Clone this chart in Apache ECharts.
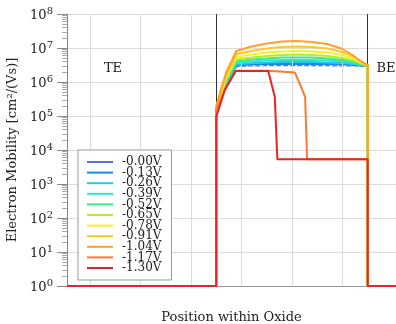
<!DOCTYPE html>
<html>
<head>
<meta charset="utf-8">
<script src="https://cdn.jsdelivr.net/npm/echarts@6/dist/echarts.min.js"></script>
<style>
	html, body { margin: 0; padding: 0; background: #fff; }
	#chart { width: 396px; height: 324px; }
</style>
</head>
<body>
<div id="chart"></div>
<script>
// x in grid units (0 = first vertical grid line), oxide between 2.5 and 5.5
const xMin = -0.455
const xMax = 6.06
const gridX = [0, 1, 2, 3, 4, 5]
const oxide = [2.5, 5.5]

const names = ['-0.00V', '-0.13V', '-0.26V', '-0.39V', '-0.52V', '-0.65V', '-0.78V', '-0.91V', '-1.04V', '-1.17V', '-1.30V']
const colors = ['#5a6cf0', '#1e88e5', '#26c6e6', '#2ee6d0', '#3ce68c', '#b4ec28', '#f2f22a', '#ffc81e', '#ff9f32', '#ff7832', '#e82424']

// sample positions of the smooth curves
const xPos = [2.5, 2.6, 2.7, 2.9, 3.2, 3.5, 3.8, 4.1, 4.4, 4.7, 5.0, 5.2, 5.35, 5.5]
const m000 = [1.40e5, 3.38e5, 8.17e5, 2.86e6, 2.96e6, 3.02e6, 3.02e6, 3.02e6, 3.02e6, 3.02e6, 2.96e6, 2.96e6, 2.96e6, 2.86e6]
const m013 = [1.50e5, 3.62e5, 8.73e5, 3.06e6, 3.27e6, 3.38e6, 3.38e6, 3.38e6, 3.38e6, 3.38e6, 3.27e6, 3.16e6, 3.06e6, 2.96e6]
const m026 = [1.50e5, 3.87e5, 9.35e5, 3.27e6, 3.62e6, 3.75e6, 3.87e6, 3.87e6, 3.87e6, 3.75e6, 3.62e6, 3.38e6, 3.16e6, 2.96e6]
const m039 = [1.61e5, 4.15e5, 1.00e6, 3.62e6, 4.01e6, 4.29e6, 4.44e6, 4.44e6, 4.44e6, 4.29e6, 4.01e6, 3.62e6, 3.27e6, 2.96e6]
const m052 = [1.61e5, 4.44e5, 1.07e6, 4.01e6, 4.59e6, 4.91e6, 5.26e6, 5.26e6, 5.26e6, 4.91e6, 4.44e6, 3.87e6, 3.38e6, 2.96e6]
const m065 = [1.72e5, 4.75e5, 1.23e6, 4.59e6, 5.26e6, 5.82e6, 6.22e6, 6.44e6, 6.22e6, 5.82e6, 5.08e6, 4.44e6, 3.62e6, 2.96e6]
const m078 = [1.72e5, 5.08e5, 1.40e6, 5.43e6, 6.44e6, 7.38e6, 7.89e6, 8.17e6, 7.89e6, 7.38e6, 6.22e6, 5.08e6, 3.87e6, 3.16e6]
const m091 = [1.84e5, 5.82e5, 1.61e6, 6.66e6, 8.17e6, 9.67e6, 1.07e7, 1.11e7, 1.07e7, 9.67e6, 7.63e6, 5.82e6, 4.15e6, 3.16e6]
const m104 = [1.84e5, 6.66e5, 1.97e6, 8.17e6, 1.11e7, 1.36e7, 1.55e7, 1.61e7, 1.50e7, 1.31e7, 9.35e6, 6.22e6, 4.15e6, 3.16e6]

// the two high-voltage curves break down
const x117 = [2.5, 2.67, 2.885, 3.53, 4.06, 4.26, 4.30, 5.5]
const m117 = [1.50e5, 6.00e5, 2.15e6, 2.15e6, 1.90e6, 3.70e5, 5.3e3, 5.3e3]
const x130 = [2.5, 2.67, 2.885, 3.53, 3.66, 3.71, 5.5]
const m130 = [9.4e4, 5.82e5, 2.11e6, 2.11e6, 3.62e5, 5.3e3, 5.3e3]

// outside the oxide the mobility sits at the floor
const floorVal = 1

const curveX = [xPos, xPos, xPos, xPos, xPos, xPos, xPos, xPos, xPos, x117, x130]
const curveY = [m000, m013, m026, m039, m052, m065, m078, m091, m104, m117, m130]

const serif = 'DejaVu Serif'

function buildData(xs, ys) {
	const pts = [[xMin, floorVal], [oxide[0], floorVal]]
	xs.forEach((x, i) => pts.push([x, ys[i]]))
	pts.push([oxide[1], floorVal], [xMax, floorVal])
	return pts
}

const series = [
	{
		// background grid lines
		name: 'grid',
		type: 'line',
		data: [],
		z: 1,
		silent: true,
		markLine: {
			silent: true,
			symbol: 'none',
			label: { show: false },
			lineStyle: { color: '#dcdcdc', width: 1, type: 'solid' },
			data: gridX.map((x) => ({ xAxis: x })),
		},
	},
]

names.forEach((name, i) => {
	series.push({
		name: name,
		type: 'line',
		data: buildData(curveX[i], curveY[i]),
		symbol: 'none',
		z: 2 + i,
		lineStyle: {
			color: colors[i],
			width: i === 0 ? 1.2 : 2,
			type: i === 0 ? [5, 2] : 'solid',
		},
		itemStyle: { color: colors[i] },
	})
})

// oxide boundaries, drawn on top
series[series.length - 1].markLine = {
	silent: true,
	symbol: 'none',
	label: { show: false },
	lineStyle: { color: '#333', width: 1, type: 'solid' },
	data: oxide.map((x) => ({ xAxis: x })),
}

const option = {
	animation: false,
	backgroundColor: '#fff',
	grid: { left: 67, right: 0, top: 14, bottom: 38, outerBoundsMode: 'none' },
	legend: {
		data: names,
		orient: 'vertical',
		left: 78,
		top: 150,
		padding: [6, 10, 6, 9],
		itemGap: -1.4,
		itemWidth: 26,
		itemHeight: 2,
		icon: 'rect',
		backgroundColor: '#fff',
		borderColor: '#999',
		borderWidth: 1,
		borderRadius: 0,
		z: 10,
		textStyle: { fontFamily: serif, fontSize: 12, color: '#222', padding: [0, 0, 0, 4] },
	},
	xAxis: {
		type: 'value',
		min: xMin,
		max: xMax,
		name: 'Position within Oxide',
		nameLocation: 'middle',
		nameGap: 25,
		nameTextStyle: { fontFamily: serif, fontSize: 13, color: '#222' },
		axisLine: { onZero: false, lineStyle: { color: '#999' } },
		axisTick: { show: false },
		axisLabel: { show: false },
		splitLine: { show: false },
	},
	yAxis: {
		type: 'log',
		min: 1,
		max: 1e8,
		interval: 1,
		name: 'Electron Mobility [cm²/(Vs)]',
		nameLocation: 'middle',
		nameGap: 48,
		nameTextStyle: { fontFamily: serif, fontSize: 13, color: '#222' },
		axisLine: { show: true, onZero: false, lineStyle: { color: '#888' } },
		axisTick: { show: true, length: 10, lineStyle: { color: '#888' } },
		minorTick: { show: true, length: 5, splitNumber: 9, lineStyle: { color: '#aaa' } },
		splitLine: { show: true, lineStyle: { color: '#dcdcdc' } },
		axisLabel: {
			margin: 14,
			formatter: (v) => '{a|10}{b|' + Math.round(Math.log10(v)) + '}',
			rich: {
				a: { fontFamily: serif, fontSize: 13, color: '#222', lineHeight: 16, verticalAlign: 'bottom' },
				b: { fontFamily: serif, fontSize: 10, color: '#222', lineHeight: 16, verticalAlign: 'top', padding: [0, 0, 6, 0] },
			},
		},
	},
	graphic: [
		{ type: 'text', x: 113, y: 69, style: { text: 'TE', align: 'center', verticalAlign: 'middle', fontFamily: serif, fontSize: 13, fill: '#222' } },
		{ type: 'text', x: 386, y: 69, style: { text: 'BE', align: 'center', verticalAlign: 'middle', fontFamily: serif, fontSize: 13, fill: '#222' } },
	],
	series: series,
}

const chart = echarts.init(document.getElementById('chart'), null, { renderer: 'canvas' })
chart.setOption(option)
</script>
</body>
</html>
